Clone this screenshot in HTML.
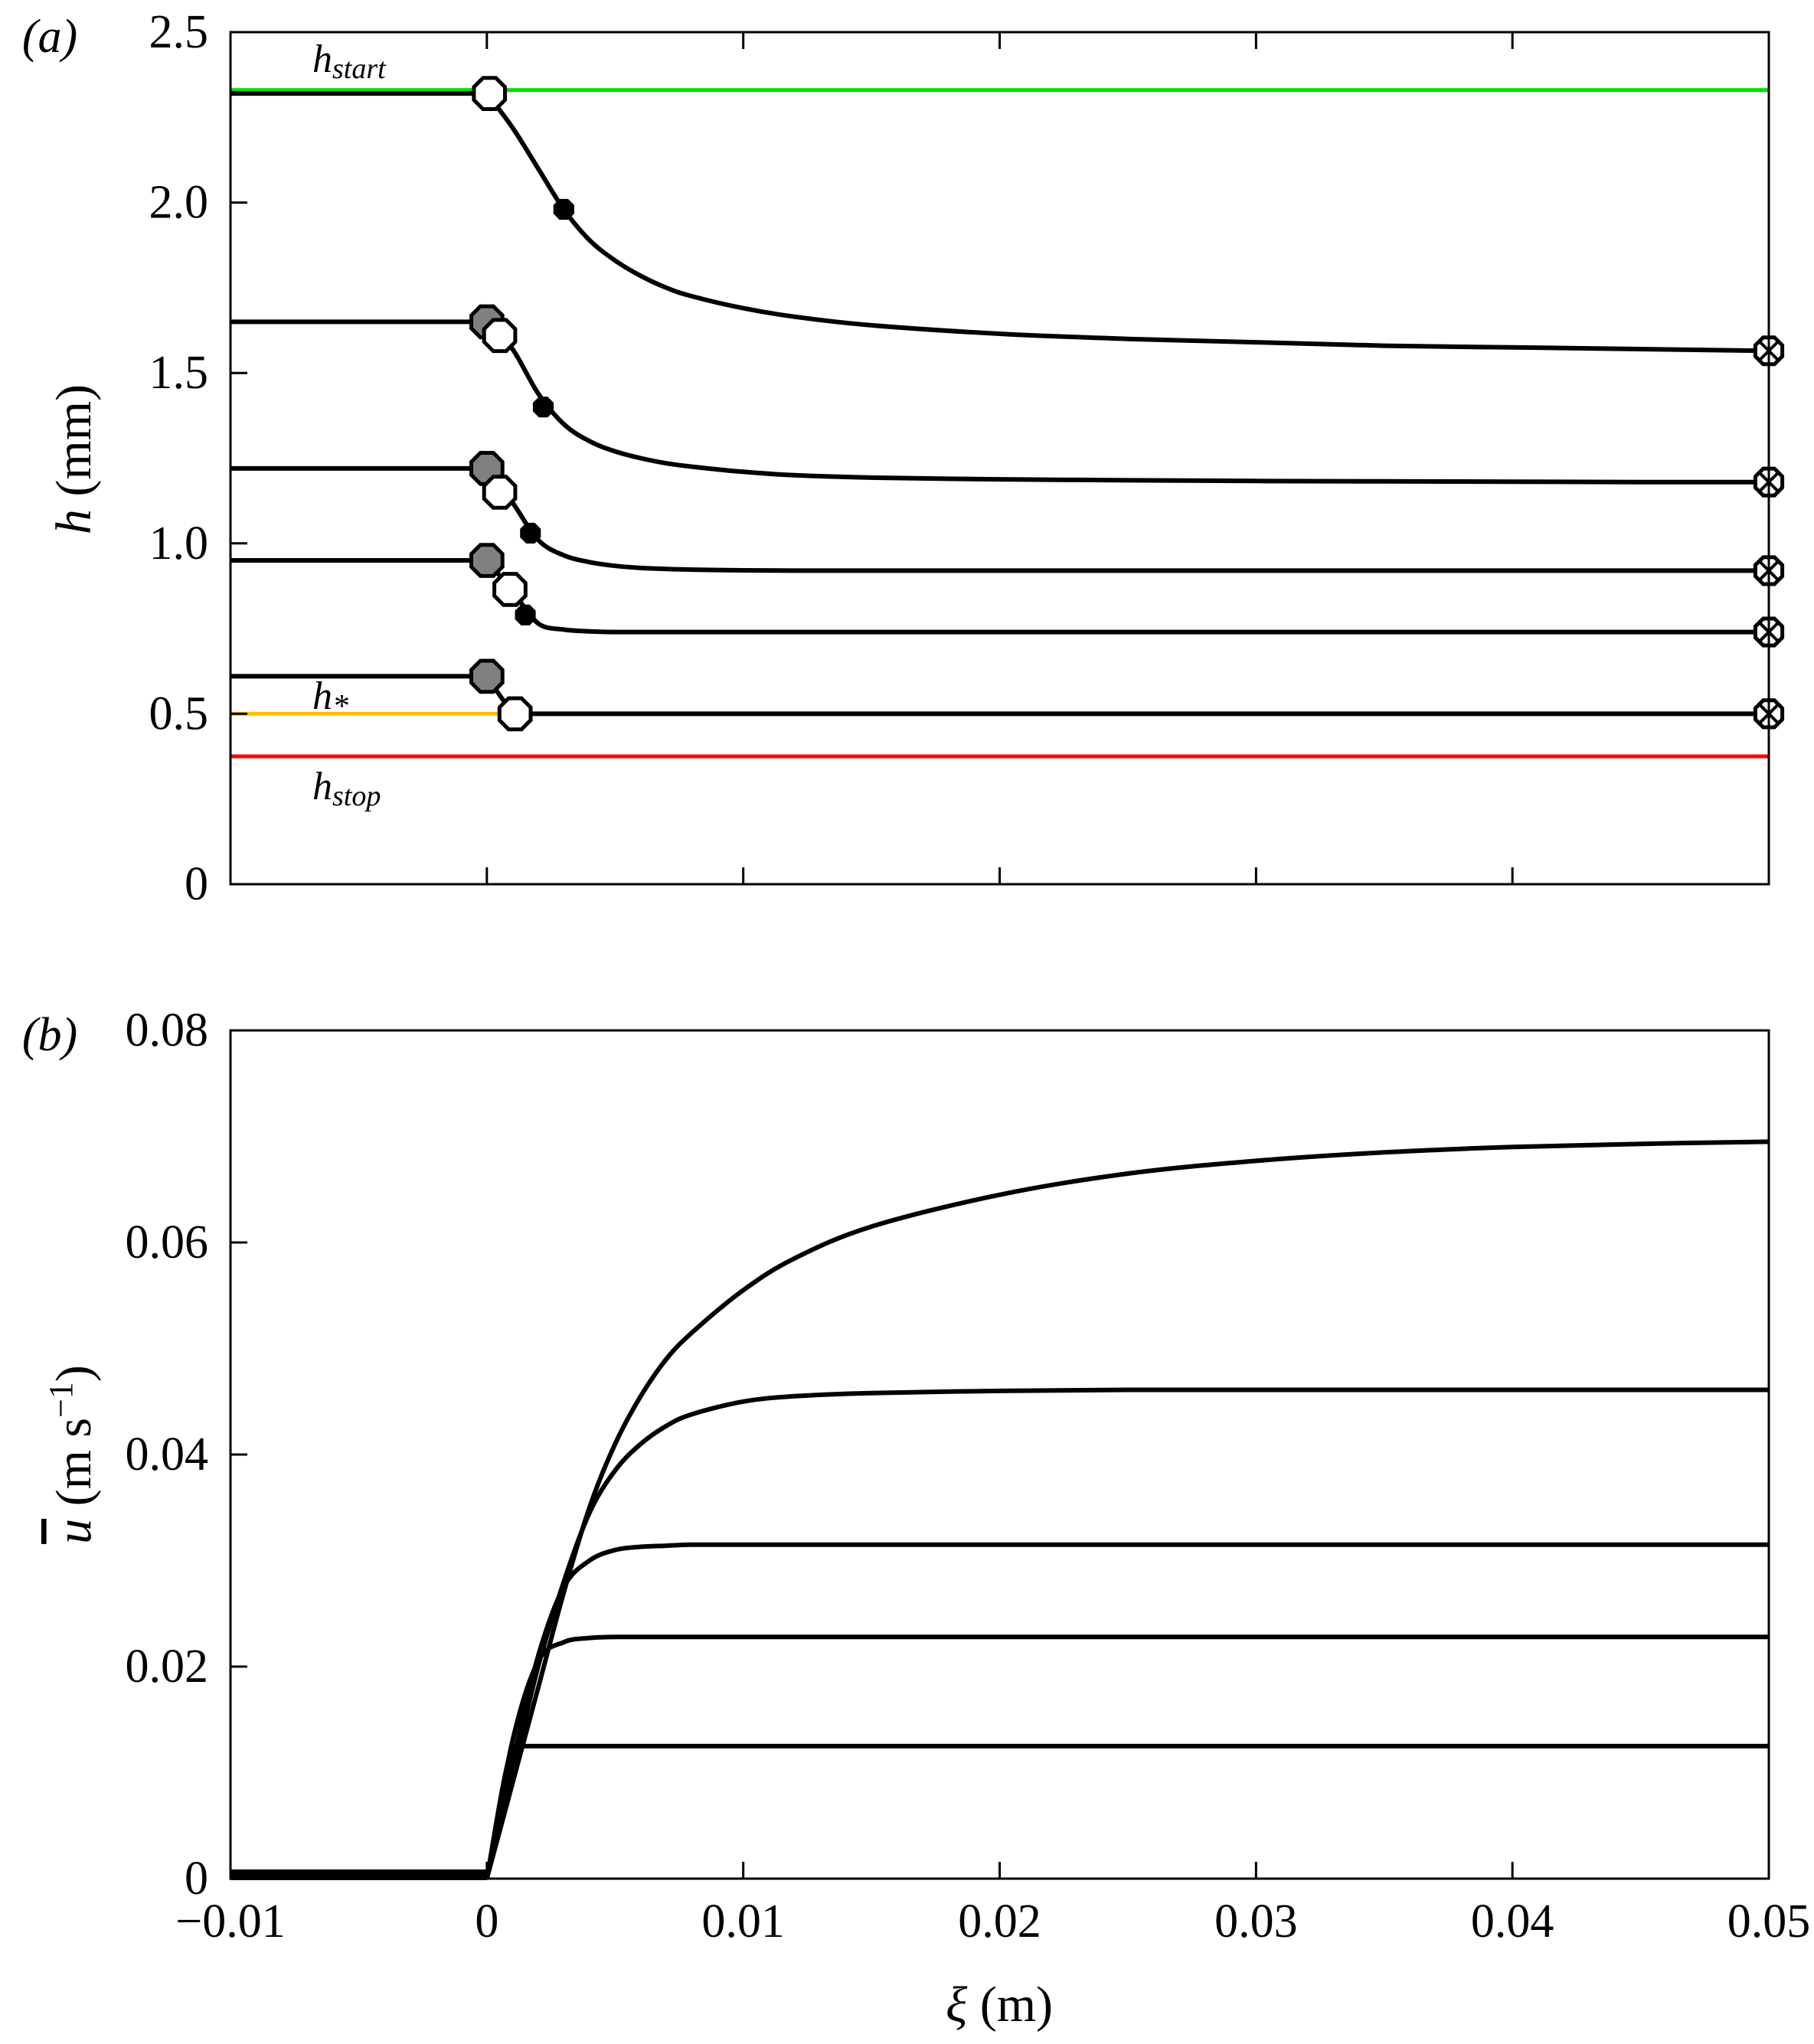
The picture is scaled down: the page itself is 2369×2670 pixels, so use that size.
<!DOCTYPE html>
<html><head><meta charset="utf-8"><style>
html,body{margin:0;padding:0;background:#fff}
svg{display:block;font-family:"Liberation Serif","Times New Roman",serif}
</style></head><body>
<svg id="chart" width="2369" height="2670" viewBox="0 0 2369 2670" xmlns="http://www.w3.org/2000/svg"></svg>
<script>
const xs = [0,0.001,0.002,0.003,0.004,0.005,0.006,0.007,0.008,0.01,0.012,0.015,0.02,0.025,0.03,0.035,0.04,0.045,0.05];
const hUp = [2.32,1.65,1.22,0.95,0.61];
const hC1 = [2.32,2.22,2.10,1.98,1.89,1.83,1.785,1.75,1.725,1.69,1.665,1.64,1.615,1.60,1.59,1.58,1.575,1.57,1.565];
const hC2 = [1.65,1.57,1.44,1.35,1.30,1.27,1.25,1.235,1.225,1.21,1.20,1.193,1.188,1.185,1.183,1.182,1.181,1.18,1.18];
const hC3 = [1.22,1.12,1.01,0.965,0.945,0.934,0.928,0.925,0.923,0.921,0.92,0.92,0.92,0.92,0.92,0.92,0.92,0.92,0.92];
const hC4 = [0.95,0.86,0.765,0.747,0.742,0.74,0.74,0.74,0.74,0.74,0.74,0.74,0.74,0.74,0.74,0.74,0.74,0.74,0.74];
const hC5 = [0.61,0.50,0.50,0.50,0.50,0.50,0.50,0.50,0.50,0.50,0.50,0.50,0.50,0.50,0.50,0.50,0.50,0.50,0.50];
const openX = [0.0001,0.0005,0.0005,0.0009,0.0011];
const openH = [2.32,1.61,1.15,0.865,0.50];
const dotX = [0.003,0.0022,0.0017,0.0015];
const dotH = [1.98,1.40,1.03,0.79];
const hStart = 2.33, hStar = 0.50, hStop = 0.375;
const uC1 = [0,0.009,0.018,0.027,0.035,0.041,0.0455,0.049,0.0515,0.0555,0.0585,0.0615,0.0645,0.0665,0.0677,0.0685,0.069,0.0693,0.0695];
const uC2 = [0,0.010,0.020,0.028,0.0345,0.0385,0.041,0.0427,0.0438,0.0450,0.0455,0.0458,0.0460,0.0461,0.0461,0.0461,0.0461,0.0461,0.0461];
const uC3 = [0,0.011,0.021,0.0275,0.0300,0.0310,0.0313,0.0314,0.0315,0.0315,0.0315,0.0315,0.0315,0.0315,0.0315,0.0315,0.0315,0.0315,0.0315];
const uC4 = [0,0.013,0.0205,0.0223,0.0227,0.0228,0.0228,0.0228,0.0228,0.0228,0.0228,0.0228,0.0228,0.0228,0.0228,0.0228,0.0228,0.0228,0.0228];
const uC5 = [0,0.0125,0.0125,0.0125,0.0125,0.0125,0.0125,0.0125,0.0125,0.0125,0.0125,0.0125,0.0125,0.0125,0.0125,0.0125,0.0125,0.0125,0.0125];
const xTicks = [-0.01,0,0.01,0.02,0.03,0.04,0.05];
const xTickLabels = ["\u22120.01","0","0.01","0.02","0.03","0.04","0.05"];
const hTicks = [0,0.5,1.0,1.5,2.0,2.5];
const hTickLabels = ["0","0.5","1.0","1.5","2.0","2.5"];
const uTicks = [0,0.02,0.04,0.06,0.08];
const uTickLabels = ["0","0.02","0.04","0.06","0.08"];

const NS="http://www.w3.org/2000/svg";
const svg=document.getElementById('chart');
const L=301,R=2310,aT=42,aB=1155,bT=1346,bB=2454;
const X=v=>L+(v+0.01)/0.06*(R-L);
const YA=v=>aB-v/2.5*(aB-aT);
const YB=v=>bB-v/0.08*(bB-bT);
function mk(tag,attrs,parent){const e=document.createElementNS(NS,tag);for(const k in attrs)e.setAttribute(k,attrs[k]);(parent||svg).appendChild(e);return e;}
function line(x1,y1,x2,y2,c,w,name){const e=mk('line',{x1,y1,x2,y2,stroke:c,'stroke-width':w});

return e;}
function smooth(arrX,arrY,Y,name,w){
  const P=arrX.map((x,i)=>[X(x),Y(arrY[i])]);
  let d='M'+P[0][0].toFixed(1)+','+P[0][1].toFixed(1);
  for(let i=0;i<P.length-1;i++){
    const p0=P[Math.max(0,i-1)],p1=P[i],p2=P[i+1],p3=P[Math.min(P.length-1,i+2)];
    const t=1/6;
    let c1=[p1[0]+(p2[0]-p0[0])*t,p1[1]+(p2[1]-p0[1])*t];
    let c2=[p2[0]-(p3[0]-p1[0])*t,p2[1]-(p3[1]-p1[1])*t];
    const lo=Math.min(p1[1],p2[1]),hi=Math.max(p1[1],p2[1]);
    c1[1]=Math.min(hi,Math.max(lo,c1[1]));c2[1]=Math.min(hi,Math.max(lo,c2[1]));
    d+=' C'+c1[0].toFixed(1)+','+c1[1].toFixed(1)+' '+c2[0].toFixed(1)+','+c2[1].toFixed(1)+' '+p2[0].toFixed(1)+','+p2[1].toFixed(1);
  }
  const e=mk('path',{d,fill:'none',stroke:'#000','stroke-width':w||6,'stroke-linejoin':'round'});
  
  return e;}
function oct(cx,cy,r,fill,name){const p=[];for(let i=0;i<8;i++){const a=Math.PI/8+i*Math.PI/4;p.push((cx+r*Math.cos(a)).toFixed(1)+','+(cy+r*Math.sin(a)).toFixed(1));}
const e=mk('polygon',{points:p.join(' '),fill,stroke:'#000','stroke-width':5});

return e;}
function text(x,y,s,size,anchor,name,extra){const e=mk('text',Object.assign({x,y,'font-size':size,'text-anchor':anchor||'middle'},extra||{}));e.textContent=s;

return e;}

// Panel a
line(L,YA(hStart),R,YA(hStart),'#00e000',5,'h-start-line');
line(L,YA(hStop),R,YA(hStop),'#ff0000',5,'h-stop-line');
line(L,YA(hStar),X(0.0011),YA(hStar),'#ffc000',5,'h-star-line');
hUp.forEach((h,i)=>{line(L,YA(h),X(0),YA(h),'#000',6,'upstream-h-'+(i+1));});
[hC1,hC2,hC3,hC4,hC5].forEach((c,i)=>{
  const cx = i===4 ? [0,0.0011].concat(xs.slice(2)) : xs;
  smooth(cx,c,YA,'h-curve-'+(i+1));
});
hUp.forEach((h,i)=>{ if(i>0) oct(X(0),YA(h),22,'#808080','gray-marker-'+(i+1)); });
openX.forEach((x,i)=>oct(X(x),YA(openH[i]),22,'#fff','open-marker-'+(i+1)));
dotX.forEach((x,i)=>oct(X(x),YA(dotH[i]),12,'#000','dot-marker-'+(i+1)));
[hC1,hC2,hC3,hC4,hC5].forEach((c,i)=>{
  const cx=X(0.05),cy=YA(c[c.length-1]);
  oct(cx,cy,19,'#fff','end-marker-'+(i+1));
  line(cx-12,cy-12,cx+12,cy+12,'#000',4,'end-cross-a-'+(i+1));
  line(cx-12,cy+12,cx+12,cy-12,'#000',4,'end-cross-b-'+(i+1));
});
const fa=mk('rect',{x:L,y:aT,width:R-L,height:aB-aT,fill:'none',stroke:'#000','stroke-width':3});


xTicks.forEach((t,i)=>{line(X(t),aB,X(t),aB-22,'#000',3,'a-x-tick');line(X(t),aT,X(t),aT+22,'#000',3,'a-x-tick-top');});
hTicks.forEach((t,i)=>{line(L,YA(t),L+22,YA(t),'#000',3,'a-y-tick');text(272,YA(t)+20,hTickLabels[i],62,'end','a-y-tick-label');});
text(65,68,'(a)',62,'middle','panel-a-label',{'font-style':'italic'});
const ha=text(0,0,'',66,'middle','a-y-axis-title',{transform:'translate(118,600) rotate(-90)'});
ha.innerHTML='<tspan font-style="italic">h</tspan> (mm)';
const t1=text(408,94,'',52,'start','h-start-label',{'font-style':'italic'});t1.innerHTML='h<tspan font-size="38" dy="8">start</tspan>';
const t2=text(408,926,'',52,'start','h-star-label',{'font-style':'italic'});t2.innerHTML='h<tspan font-size="42" dy="10">*</tspan>';
const t3=text(408,1044,'',52,'start','h-stop-label',{'font-style':'italic'});t3.innerHTML='h<tspan font-size="38" dy="8">stop</tspan>';

// Panel b
[uC1,uC2,uC3,uC4,uC5].forEach((c,i)=>smooth(xs,c,YB,'u-curve-'+(i+1)));
line(L,YB(0)-5,X(0),YB(0)-5,'#000',14,'u-upstream-zero');
const fb=mk('rect',{x:L,y:bT,width:R-L,height:bB-bT,fill:'none',stroke:'#000','stroke-width':3});


xTicks.forEach((t,i)=>{line(X(t),bB,X(t),bB-22,'#000',3,'b-x-tick');text(X(t),2530,xTickLabels[i],62,'middle','x-tick-label');});
uTicks.forEach((t,i)=>{line(L,YB(t),L+22,YB(t),'#000',3,'b-y-tick');text(272,YB(t)+20,uTickLabels[i],62,'end','b-y-tick-label');});
text(65,1372,'(b)',62,'middle','panel-b-label',{'font-style':'italic'});
const ub=text(0,0,'',66,'middle','b-y-axis-title',{transform:'translate(118,1900) rotate(-90)'});
ub.innerHTML='<tspan font-style="italic" text-decoration="overline">u</tspan> (m s<tspan font-size="44" dy="-24">\u22121</tspan><tspan dy="24">)</tspan>';
const xl=text(1305,2640,'',66,'middle','x-axis-title');
xl.innerHTML='<tspan font-style="italic">\u03be</tspan> (m)';
</script>
</body></html>
